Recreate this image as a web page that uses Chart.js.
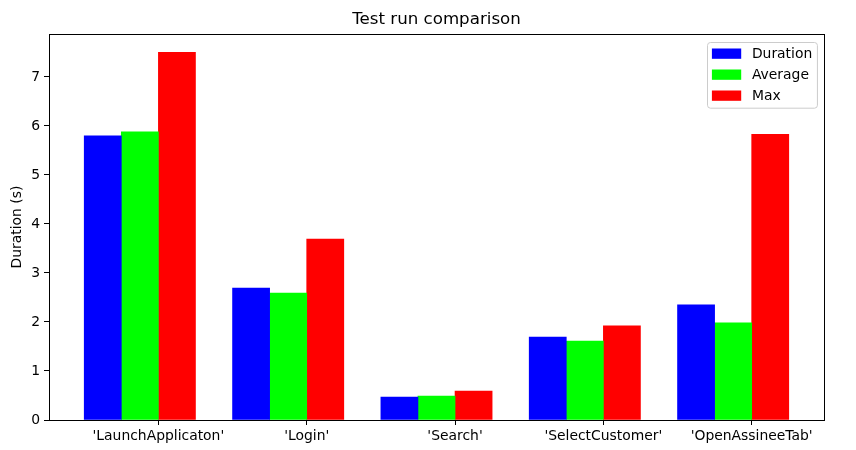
<!DOCTYPE html>
<html>
<head>
<meta charset="utf-8">
<title>Test run comparison</title>
<script src="https://cdn.jsdelivr.net/npm/chart.js@4.4.1/dist/chart.umd.min.js"></script>
<style>
  html, body { margin: 0; padding: 0; background: #fff; }
  #chart { display: block; }
</style>
</head>
<body>
<canvas id="chart" width="856" height="450"></canvas>
<script>
const categories = ["'LaunchApplicaton'", "'Login'", "'Search'", "'SelectCustomer'", "'OpenAssineeTab'"];
const duration = [5.80, 2.69, 0.47, 1.69, 2.35];
const average = [5.88, 2.59, 0.49, 1.61, 1.98];
const maximum = [7.50, 3.69, 0.59, 1.92, 5.83];
const yTicks = [0, 1, 2, 3, 4, 5, 6, 7];

const FONT = '"DejaVu Sans", sans-serif';
Chart.defaults.font.family = FONT;
Chart.defaults.color = '#000';

// box around the plot, like matplotlib spines
const frame = {
  id: 'frame',
  afterDatasetsDraw(chart) {
    const { ctx, chartArea: a } = chart;
    ctx.save();
    ctx.strokeStyle = '#000';
    ctx.lineWidth = 1;
    const l = Math.round(a.left) + 0.5, t = Math.round(a.top) + 0.5;
    const r = Math.round(a.right) + 0.5, b = Math.round(a.bottom) + 0.5;
    ctx.strokeRect(l, t, r - l, b - t);
    ctx.restore();
  }
};

// legend inside the plot, top right
const legendBox = {
  id: 'legendBox',
  afterDatasetsDraw(chart) {
    const { ctx, chartArea: a } = chart;
    const items = chart.data.datasets.filter(d => d.label);
    ctx.save();
    ctx.font = '13.9px ' + FONT;
    const textW = Math.max(...items.map(d => ctx.measureText(d.label).width));
    const w = 4.4 + 29.3 + 10.7 + textW + 5.2;
    const h = 6 + (items.length - 1) * 21 + 10.3 + 7.4;
    const x = Math.round(a.right - 7 - w) + 0.5;
    const y = Math.round(a.top + 8) + 0.5;
    ctx.beginPath();
    ctx.roundRect(x, y, w, h, 3);
    ctx.fillStyle = 'rgba(255,255,255,0.8)';
    ctx.fill();
    ctx.strokeStyle = '#cccccc';
    ctx.lineWidth = 1;
    ctx.stroke();
    ctx.textBaseline = 'middle';
    ctx.textAlign = 'left';
    items.forEach((d, i) => {
      const by = y + 6 + i * 21;
      ctx.fillStyle = d.backgroundColor;
      ctx.fillRect(x + 4.4, by, 29.3, 10.3);
      ctx.fillStyle = '#000';
      ctx.fillText(d.label, x + 4.4 + 29.3 + 10.7, by + 5.5);
    });
    ctx.restore();
  }
};

new Chart(document.getElementById('chart'), {
  type: 'bar',
  data: {
    labels: categories.map((c, i) => i),
    datasets: [
      { label: 'Duration', data: duration, backgroundColor: '#0000ff' },
      { label: 'Average', data: average, backgroundColor: '#00ff00' },
      { label: 'Max', data: maximum, backgroundColor: '#ff0000' },
      // empty slot so the tick sits between Average and Max
      { label: '', data: categories.map(() => null), backgroundColor: 'rgba(0,0,0,0)' }
    ]
  },
  options: {
    responsive: false,
    animation: false,
    devicePixelRatio: 1,
    datasets: { bar: { categoryPercentage: 1, barPercentage: 1, borderWidth: 0 } },
    layout: { padding: { left: 0, right: 32, top: 0, bottom: 0 } },
    plugins: {
      legend: { display: false },
      tooltip: { enabled: false },
      title: {
        display: true,
        fullSize: false,
        text: 'Test run comparison',
        color: '#000',
        font: { size: 16.67, weight: 'normal' },
        padding: { top: 9.2, bottom: 4.8 }
      }
    },
    scales: {
      x: {
        type: 'linear',
        min: -0.7375,
        max: 4.4875,
        bounds: 'data',
        offset: false,
        afterBuildTicks: s => { s.ticks = categories.map((c, i) => ({ value: i })); },
        afterFit: s => { s.height = 30; },
        grid: { display: true, offset: false, drawOnChartArea: false, drawTicks: true, tickLength: 5, tickColor: '#000' },
        border: { display: false },
        ticks: {
          autoSkip: false, maxRotation: 0, minRotation: 0, padding: 3,
          color: '#000', font: { size: 13.9 },
          callback: v => categories[v]
        }
      },
      y: {
        min: 0,
        max: 7.875,
        bounds: 'data',
        afterBuildTicks: s => { s.ticks = yTicks.map(v => ({ value: v })); },
        afterFit: s => { s.width = 49; },
        grid: { display: true, drawOnChartArea: false, drawTicks: true, tickLength: 5, tickColor: '#000' },
        border: { display: false },
        ticks: { padding: 4, color: '#000', font: { size: 13.9 } },
        title: {
          display: true,
          text: 'Duration (s)',
          color: '#000',
          font: { size: 13.9 },
          padding: { top: 8.7, bottom: 0 }
        }
      }
    }
  },
  plugins: [frame, legendBox]
});
</script>
</body>
</html>
